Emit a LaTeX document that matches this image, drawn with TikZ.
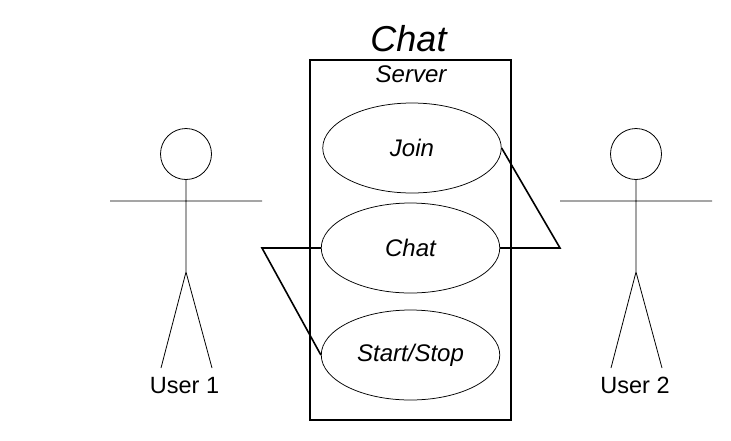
\documentclass[tikz,border=0pt]{standalone}
\usepackage{fontspec}
\setmainfont{Liberation Sans}
\usetikzlibrary{shapes.geometric}
\begin{document}
\begin{tikzpicture}[x=1pt,y=-1pt,
  usecase/.style={draw,ellipse,minimum width=178.5pt,minimum height=90pt,inner sep=0pt,line width=0.75pt,font=\itshape\fontsize{24}{28}\selectfont},
  head/.style={draw,circle,minimum size=51pt,inner sep=0pt,line width=0.8pt},
  limb/.style={line width=0.8pt},
  link/.style={line width=1.6pt},
  lab/.style={inner sep=0pt,font=\fontsize{23.5}{28}\selectfont}]
\useasboundingbox (0,0) rectangle (731,440);
\fill[white] (0,0) rectangle (731,440);
\node[draw,line width=1.5pt,minimum width=201pt,minimum height=360pt,inner sep=0pt] (server) at (410.5,240) {};
\node[lab,font=\itshape\fontsize{36}{40}\selectfont] (title) at (408.5,38.5) {Chat};
\node[lab,font=\itshape\fontsize{24}{28}\selectfont] (srv) at (411,74) {Server};
\node[usecase] (join) at (412,148) {Join};
\node[usecase] (chat) at (410.5,248) {Chat};
\node[usecase] (start) at (410.5,355) {Start/Stop};
% user 1
\node[head] (h1) at (186,154) {};
\coordinate (hip1) at (186,272);
\coordinate (l1) at (110,201);
\coordinate (r1) at (262,201);
\coordinate (f1a) at (161,368);
\coordinate (f1b) at (212,368);
\draw[limb] (h1.south) -- (hip1) -- (f1a) (hip1) -- (f1b) (l1) -- (r1);
\node[lab] (u1) at (184.5,385.5) {User 1};
% user 2
\node[head] (h2) at (636,154) {};
\coordinate (hip2) at (636,272);
\coordinate (l2) at (560,201);
\coordinate (r2) at (712,201);
\coordinate (f2a) at (611,368);
\coordinate (f2b) at (662,368);
\draw[limb] (h2.south) -- (hip2) -- (f2a) (hip2) -- (f2b) (l2) -- (r2);
\node[lab] (u2) at (635,385.5) {User 2};
% links
\coordinate (a1) at (262,248);
\coordinate (a2) at (560,248);
\draw[link] (chat.west) -- (a1) -- (start.west);
\draw[link] (join.east) -- (a2) -- (chat.east);
\end{tikzpicture}
\end{document}
